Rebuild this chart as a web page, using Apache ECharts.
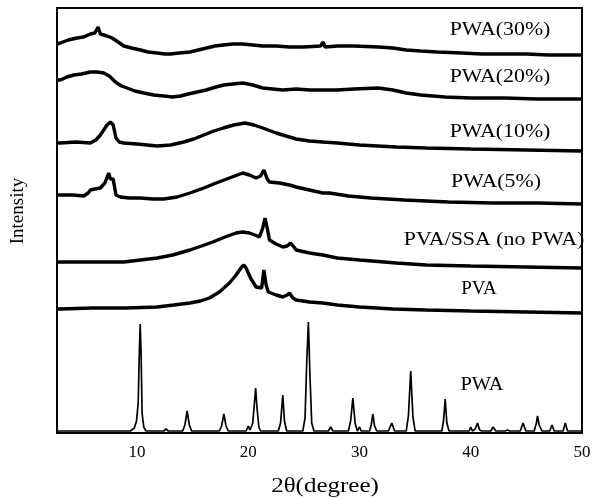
<!DOCTYPE html>
<html>
<head>
<meta charset="utf-8">
<script src="https://cdn.jsdelivr.net/npm/echarts@6/dist/echarts.min.js"></script>
<style>
  html, body { margin: 0; padding: 0; background: #fff; }
  #chart { width: 595px; height: 499px; }
</style>
</head>
<body>
<div id="chart"></div>
<script>
// x tick labels
const xTicks = [10, 20, 30, 40, 50]

// each curve: [2theta, intensity] (intensity in stacked arbitrary units)
const pwa30 = [[2.8,389],[3.1,390],[3.8,393],[4.6,395],[5.2,396],[5.8,399],[6.2,400],[6.5,406],[6.7,399],[6.85,398],[7.3,397],[7.75,395],[8.3,391],[8.8,387],[9.5,385],[10.3,383],[11.0,381],[11.8,380],[12.5,379],[13.0,379],[13.8,380],[14.75,381],[15.5,383],[16.25,385],[17.0,387],[17.75,388],[18.6,389],[19.5,389],[20.4,388],[21.3,387],[22.5,387],[23.7,386],[25,386],[26.5,387],[26.7,391],[26.9,386],[28,387],[29.5,387],[31.7,386],[33,385],[34.2,383],[35.5,382],[37,381],[39.2,380],[41,379],[43,379],[45,379],[47,378],[50,378]]

const pwa20 = [[2.8,353],[3.1,353],[3.7,356],[4.3,358],[5.0,359],[5.8,361],[6.4,361],[7.0,360],[7.5,357],[8.05,351],[8.6,347],[9.1,345],[9.8,342],[10.6,340],[11.5,338],[12.4,337],[13.2,336],[13.9,337],[14.6,339],[15.4,341],[16.2,343],[17.1,346],[17.8,348],[18.6,349],[19.5,350],[20.4,348],[21.3,345],[22.2,344],[23.1,343],[24.3,344],[25.5,343],[26.7,343],[28,343],[29.5,344],[31.7,345],[33,343],[34.2,340],[35.5,338],[37.7,336],[40,335],[43,335],[46,334],[50,334]]

const pwa10 = [[2.8,290],[3.1,290],[4.5,291],[5.8,290],[6.3,293],[6.7,298],[7.0,303],[7.3,308],[7.6,311],[7.85,308],[8.1,295],[8.4,291],[8.8,290],[10,289],[11.8,287],[13,288],[14.2,291],[15.1,294],[16,298],[16.9,302],[17.75,305],[18.7,308],[19.7,310],[20.5,308],[21.3,305],[22.5,300],[23.7,296],[24.3,294],[25.5,292],[26.7,291],[28,290],[30,288],[33.3,286],[36,285],[40,284],[45,283],[50,282]]

const pwa5 = [[2.8,238],[3.1,238],[4.2,238],[5.2,237],[5.6,240],[5.8,243],[6.2,244],[6.7,245],[7.1,250],[7.45,260],[7.6,254],[7.85,254],[8.1,238],[8.5,236],[9.3,235],[10.3,235],[11.4,234],[12.4,234],[13.6,236],[14.75,240],[16,245],[17.1,250],[18.3,255],[19.5,260],[20.1,258],[20.7,255],[21.1,257],[21.4,263],[21.7,254],[21.9,251],[22.8,250],[23.7,248],[24.3,246],[25.5,243],[26.7,240],[27.3,240],[29,237],[31,235],[34,233],[38,231],[42,230],[46,230],[50,229]]

const pvaSsa = [[2.8,171],[3.1,171],[5,171],[7,171],[8.8,171],[10.3,173],[11.8,175],[13.2,178],[14.75,183],[15.8,187],[16.8,191],[17.9,196],[18.9,200],[19.5,201],[20.1,200],[20.6,198],[21.0,196],[21.3,205],[21.5,215],[21.7,205],[21.9,193],[22.5,189],[23.1,186],[23.5,187],[23.8,190],[24.1,186],[24.3,183],[25.5,180],[26.7,178],[28,175],[30,173],[33.3,170],[36,168],[40,167],[45,166],[50,165]]

const pva = [[2.8,124],[3.1,124],[6,125],[9,125],[11.8,126],[13.3,128],[14.75,130],[15.7,132],[16.5,135],[17.4,141],[18.3,150],[18.9,158],[19.4,166],[19.6,168],[19.8,165],[20.2,155],[20.7,146],[21.2,145],[21.4,163],[21.6,148],[21.8,141],[22.5,138],[23.1,136],[23.5,138],[23.7,140],[24.0,135],[24.3,133],[25.5,131],[26.7,130],[28,128],[30,126],[33,124],[36,123],[40,122],[45,121],[50,120]]

const pwaCrystal = [[2.8,2],[9.4,2],[9.75,5],[9.95,12],[10.1,30],[10.2,80],[10.28,109],[10.36,80],[10.45,20],[10.6,6],[10.8,2],
  [12.4,2],[12.6,4],[12.8,2],
  [14.1,2],[14.3,8],[14.5,22],[14.7,8],[14.9,2],
  [17.4,2],[17.6,7],[17.8,19],[18.0,7],[18.2,2],
  [19.8,2],[20.0,7],[20.15,3],[20.4,10],[20.55,30],[20.66,45],[20.78,25],[20.95,6],[21.1,2],
  [22.7,2],[22.9,10],[23.1,38],[23.25,12],[23.45,2],
  [24.9,2],[25.1,15],[25.25,70],[25.4,111],[25.55,55],[25.7,10],[25.9,2],
  [27.2,2],[27.4,6],[27.6,2],
  [29.0,2],[29.2,12],[29.4,35],[29.6,10],[29.8,2],[30.0,6],[30.15,2],
  [30.9,2],[31.05,8],[31.2,19],[31.35,7],[31.55,2],
  [32.6,2],[32.9,10],[33.15,2],
  [34.2,2],[34.4,18],[34.6,62],[34.8,16],[35.0,2],
  [37.4,2],[37.55,12],[37.7,34],[37.85,10],[38.05,2],
  [39.85,2],[40.0,6],[40.15,2],[40.4,4],[40.6,10],[40.8,3],[41.0,2],
  [41.8,2],[42.0,6],[42.25,2],
  [43.1,2],[43.3,3],[43.5,2],
  [44.45,2],[44.7,10],[44.95,2],
  [45.7,2],[45.9,10],[46.0,17],[46.15,8],[46.4,2],
  [47.1,2],[47.3,8],[47.5,2],[47.8,2],[47.9,3],[48.1,2],
  [48.3,2],[48.5,10],[48.7,2],[50,2]]

const curveNames = ['PWA(30%)', 'PWA(20%)', 'PWA(10%)', 'PWA(5%)', 'PVA/SSA (no PWA)', 'PVA', 'PWA']
const curves = [pwa30, pwa20, pwa10, pwa5, pvaSsa, pva, pwaCrystal]

const serif = '"Liberation Serif", "Times New Roman", serif'

const chart = echarts.init(document.getElementById('chart'), null, { renderer: 'canvas' })

// labels next to each curve
const labelPos = [
  { x: 500, y: 30, sx: 1.15 },
  { x: 500, y: 77, sx: 1.15 },
  { x: 500, y: 132, sx: 1.15 },
  { x: 496, y: 182, sx: 1.15 },
  { x: 494, y: 240, sx: 1.15 },
  { x: 479, y: 289, sx: 1.0 },
  { x: 482, y: 385, sx: 1.07 }
]

const graphics = curveNames.map((name, i) => ({
  type: 'text',
  x: labelPos[i].x,
  y: labelPos[i].y,
  scaleX: labelPos[i].sx,
  z: 1,
  style: {
    text: name,
    x: 0,
    y: 0,
    textAlign: 'center',
    textVerticalAlign: 'middle',
    font: '19px ' + serif,
    fill: '#000'
  }
}))

graphics.push({
  type: 'text',
  x: 325,
  y: 487,
  scaleX: 1.25,
  style: {
    text: '2θ(degree)',
    x: 0, y: 0,
    textAlign: 'center',
    textVerticalAlign: 'middle',
    font: '20px ' + serif,
    fill: '#000'
  }
})
graphics.push({
  type: 'text',
  x: 18,
  y: 211,
  rotation: Math.PI / 2,
  style: {
    text: 'Intensity',
    x: 0, y: 0,
    textAlign: 'center',
    textVerticalAlign: 'middle',
    font: '19px ' + serif,
    fill: '#000'
  }
})

const option = {
  animation: false,
  backgroundColor: '#fff',
  grid: {
    left: 57,
    right: 13,
    top: 8,
    bottom: 66,
    show: true,
    borderColor: '#000',
    borderWidth: 2,
    z: 10
  },
  xAxis: {
    type: 'value',
    min: 2.8,
    max: 50,
    axisLine: { show: false },
    axisTick: { show: false },
    splitLine: { show: false },
    axisLabel: {
      customValues: xTicks,
      color: '#000',
      fontFamily: 'Liberation Serif',
      fontSize: 17,
      margin: 11,
      showMaxLabel: true
    }
  },
  yAxis: {
    type: 'value',
    min: 0,
    max: 425,
    axisLine: { show: false },
    axisTick: { show: false },
    axisLabel: { show: false },
    splitLine: { show: false }
  },
  series: curves.map((d, i) => ({
    name: curveNames[i],
    type: 'line',
    data: d,
    showSymbol: false,
    symbol: 'none',
    lineStyle: { color: '#000', width: i === 6 ? 1.7 : 3.4 },
    z: 2
  })),
  graphic: graphics
}

chart.setOption(option)
</script>
</body>
</html>
